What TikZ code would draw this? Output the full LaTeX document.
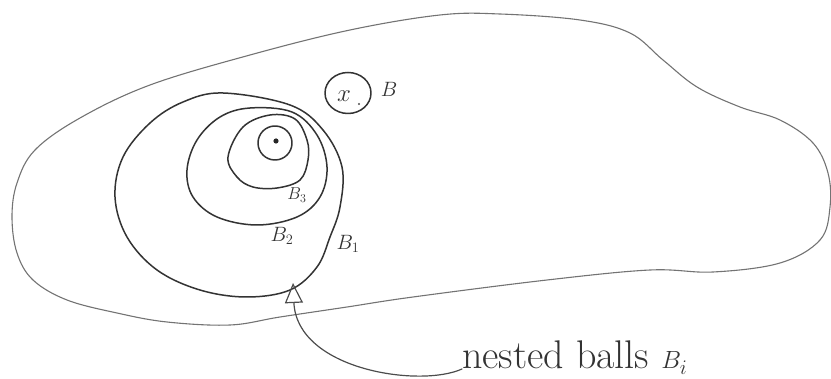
\documentclass[tikz,border=0pt]{standalone}
\usetikzlibrary{arrows.meta}
\tikzset{
  blob/.style={draw=black!55, line width=1.1pt, line join=round},
  ball/.style={draw=black!80, line width=1.5pt, line join=round},
  conn/.style={draw=black!70, line width=1.2pt, line cap=round,
    -{Triangle[open,length=20pt,width=18pt,line width=1.2pt]}},
  lab/.style={inner sep=0pt, text=black!80},
}
\begin{document}
\begin{tikzpicture}[x=1pt,y=-1pt]
\useasboundingbox (0,0) rectangle (831,379);
% outer region
\draw[blob] plot[smooth cycle, tension=0.6] coordinates {
 (12,217) (17,253) (33,280) (67,300) (117,313) (167,322) (230,325)
 (280,317) (347,307) (413,297) (547,280) (650,270) (713,272) (780,263)
 (820,240) (830,207) (828,173) (813,143) (780,120) (740,107) (697,87)
 (663,60) (630,33) (580,20) (500,14) (440,15) (350,30) (250,55)
 (150,85) (80,118) (35,150) (17,183)};
% B1
\draw[ball] plot[smooth cycle, tension=0.6] coordinates {
 (223,93) (290,105) (323,130) (342,167) (340,207) (330,237) (317,267)
 (290,290) (247,297) (200,290) (157,270) (127,237) (115,197) (123,157)
 (150,123) (183,102)};
% B2
\draw[ball] plot[smooth cycle, tension=0.6] coordinates {
 (250,108) (292,112) (317,135) (327,167) (320,197) (297,217) (257,225)
 (217,217) (193,197) (187,170) (197,140) (220,117)};
% B3
\draw[ball] plot[smooth cycle, tension=0.6] coordinates {
 (228,157) (243,127) (270,115) (295,119) (307,140) (308,160) (300,180)
 (277,188) (253,187) (237,177)};
% smallest ball
\draw[ball] (275,143) ellipse [x radius=17pt, y radius=17pt];
\fill[black!85] (276,141) circle [radius=2.6pt];
% ball B around x
\draw[ball] (348,93) ellipse [x radius=23pt, y radius=20.5pt];
\node[lab, font=\fontsize{26}{28}\selectfont] (xl) at (344,96) {$x$};
\fill[black!70] (359,104) circle [radius=1.1pt];
\node[lab, font=\fontsize{22}{26}\selectfont] (bl) at (389,89) {$B$};
% labels
\node[lab, font=\fontsize{20}{24}\selectfont] (b1) at (348,244) {$B_1$};
\node[lab, font=\fontsize{20}{24}\selectfont] (b2) at (282,236) {$B_2$};
\node[lab, font=\fontsize{18}{22}\selectfont] (b3) at (297,195) {$B_3$};
% annotation
\node[lab, anchor=base west, font=\fontsize{40}{44}\selectfont] (lbl) at (462,369) {nested balls $B_{\scriptscriptstyle i}$};
\coordinate (tip) at (293,283);
\draw[conn] (lbl.base west) .. controls (420,388) and (297,370) .. (tip);
\end{tikzpicture}
\end{document}
